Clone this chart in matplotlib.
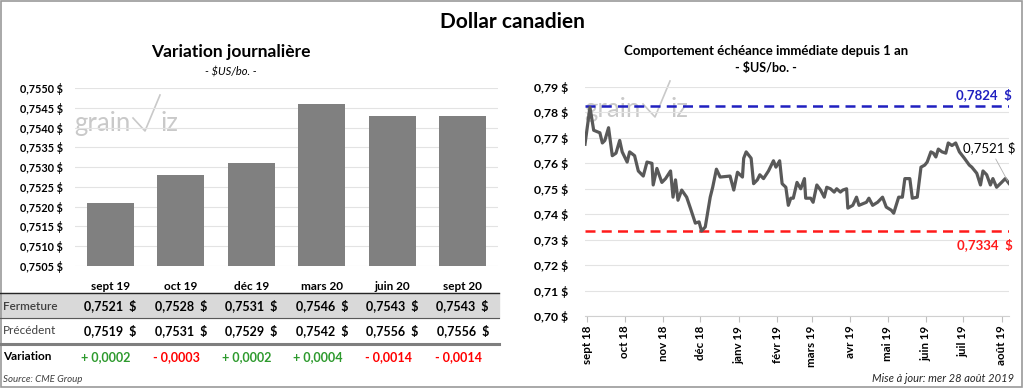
import pandas as pd
import matplotlib
matplotlib.use("Agg")
import matplotlib.pyplot as plt
from matplotlib.ticker import FuncFormatter, MultipleLocator
from matplotlib.transforms import blended_transform_factory
from matplotlib.lines import Line2D
from matplotlib.patches import Rectangle

# left panel: daily variation per contract month
contracts = ["sept 19", "oct 19", "déc 19", "mars 20", "juin 20", "sept 20"]
fermeture = [0.7521, 0.7528, 0.7531, 0.7546, 0.7543, 0.7543]
precedent = [0.7519, 0.7531, 0.7529, 0.7542, 0.7556, 0.7556]
variation = [0.0002, -0.0003, 0.0002, 0.0004, -0.0014, -0.0014]

# right panel: front month over one year
dates = [
    "2018-08-30", "2018-09-03", "2018-09-06", "2018-09-11", "2018-09-13", "2018-09-15",
    "2018-09-18", "2018-09-21", "2018-09-24", "2018-09-27", "2018-09-29", "2018-10-03",
    "2018-10-05", "2018-10-09", "2018-10-12", "2018-10-16", "2018-10-19", "2018-10-23",
    "2018-10-24", "2018-10-27", "2018-10-31", "2018-11-03", "2018-11-07", "2018-11-09",
    "2018-11-11", "2018-11-13", "2018-11-16", "2018-11-20", "2018-11-23", "2018-11-27",
    "2018-11-30", "2018-12-02", "2018-12-05", "2018-12-09", "2018-12-11", "2018-12-14",
    "2018-12-17", "2018-12-25", "2018-12-28", "2018-12-31", "2019-01-04", "2019-01-05",
    "2019-01-07", "2019-01-11", "2019-01-13", "2019-01-16", "2019-01-18", "2019-01-21",
    "2019-01-25", "2019-01-29", "2019-01-31", "2019-02-03", "2019-02-05", "2019-02-08",
    "2019-02-10", "2019-02-12", "2019-02-14", "2019-02-17", "2019-02-20", "2019-02-23",
    "2019-02-24", "2019-02-28", "2019-03-02", "2019-03-05", "2019-03-08", "2019-03-11",
    "2019-03-13", "2019-03-16", "2019-03-19", "2019-03-21", "2019-03-24", "2019-03-26",
    "2019-03-29", "2019-03-30", "2019-04-03", "2019-04-06", "2019-04-08", "2019-04-14",
    "2019-04-16", "2019-04-19", "2019-04-23", "2019-04-27", "2019-04-30", "2019-05-04",
    "2019-05-06", "2019-05-10", "2019-05-13", "2019-05-15", "2019-05-19", "2019-05-21",
    "2019-05-25", "2019-05-28", "2019-05-31", "2019-06-02", "2019-06-05", "2019-06-07",
    "2019-06-09", "2019-06-11", "2019-06-14", "2019-06-17", "2019-06-19", "2019-06-22",
    "2019-06-25", "2019-06-28", "2019-07-02", "2019-07-06", "2019-07-08", "2019-07-12",
    "2019-07-15", "2019-07-17", "2019-07-20", "2019-07-23", "2019-07-25", "2019-07-28",
    "2019-08-01", "2019-08-04", "2019-08-07",
]
prices = [
    0.7675, 0.7820, 0.7730, 0.7720, 0.7680, 0.7690,
    0.7740, 0.7630, 0.7640, 0.7690, 0.7645, 0.7605,
    0.7645, 0.7630, 0.7570, 0.7550, 0.7605, 0.7600,
    0.7515, 0.7580, 0.7525, 0.7540, 0.7570, 0.7467,
    0.7535, 0.7455, 0.7495, 0.7467, 0.7424, 0.7365,
    0.7370, 0.7334, 0.7350, 0.7467, 0.7506, 0.7577,
    0.7546, 0.7550, 0.7495, 0.7565, 0.7546, 0.7620,
    0.7645, 0.7620, 0.7520, 0.7535, 0.7555, 0.7540,
    0.7570, 0.7610, 0.7585, 0.7610, 0.7520, 0.7506,
    0.7435, 0.7463, 0.7463, 0.7525, 0.7500, 0.7540,
    0.7463, 0.7463, 0.7447, 0.7515, 0.7495, 0.7467,
    0.7506, 0.7500, 0.7487, 0.7500, 0.7487, 0.7495,
    0.7500, 0.7424, 0.7435, 0.7467, 0.7435, 0.7447,
    0.7463, 0.7435, 0.7447, 0.7467, 0.7428, 0.7416,
    0.7404, 0.7467, 0.7467, 0.7540, 0.7540, 0.7463,
    0.7467, 0.7585, 0.7593, 0.7605, 0.7645, 0.7640,
    0.7625, 0.7656, 0.7645, 0.7640, 0.7680, 0.7670,
    0.7680, 0.7645, 0.7620, 0.7593, 0.7585, 0.7561,
    0.7515, 0.7570, 0.7555, 0.7515, 0.7540, 0.7506,
    0.7525, 0.7540, 0.7521,
]
high_1y = 0.7824
low_1y = 0.7334
month_labels = ["sept 18", "oct 18", "nov 18", "déc 18", "janv 19", "févr 19",
                "mars 19", "avr 19", "mai 19", "juin 19", "juil 19", "août 19"]

FONT = ["Lato", "DejaVu Sans"]
plt.rcParams["font.family"] = FONT

W, H = 1024, 388


def fx(px):
    return px / W


def fy(py):
    return 1 - py / H


def fr(v, nd):
    return f"{v:.{nd}f}".replace(".", ",")


def watermark(fig, x, y):
    # "grain" + stylised check-mark + "iz", drawn faintly behind the axes
    c = "#c9c9c9"
    fig.text(fx(x), fy(y), "grain", fontsize=18.5, color=c, va="baseline", zorder=-5)
    fig.add_artist(Line2D([fx(x + 59), fx(x + 71), fx(x + 86)],
                          [fy(y - 13), fy(y), fy(y - 36)], color=c, lw=1.2, zorder=-5))
    fig.text(fx(x + 86), fy(y), "iz", fontsize=18.5, color=c, va="baseline", zorder=-5)


def main():
    fig = plt.figure(figsize=(W / 100, H / 100), dpi=100)
    fig.patch.set_facecolor("white")
    fig.add_artist(Rectangle((0.001, 0.002), 0.997, 0.995, transform=fig.transFigure,
                             fill=False, ec="#9a9a9a", lw=1.2))

    fig.text(0.5, fy(22), "Dollar canadien", ha="center", va="center",
             fontsize=15, fontweight="bold")

    # ---- left: bars ----
    ax1 = fig.add_axes([fx(75), fy(266), fx(498 - 75), (266 - 88) / H])
    ax1.patch.set_alpha(0)
    x = list(range(len(contracts)))
    ax1.bar(x, fermeture, width=0.66, color="#808080", zorder=2)
    ax1.set_ylim(0.7505, 0.7550)
    ax1.set_xlim(-0.5, 5.5)
    ax1.yaxis.set_major_locator(MultipleLocator(0.0005))
    ax1.yaxis.set_major_formatter(FuncFormatter(lambda v, p: fr(v, 4) + " $"))
    ax1.grid(axis="y", color="#e3e3e3", lw=0.8, zorder=0)
    ax1.set_xticks(x)
    ax1.set_xticklabels(contracts, fontsize=8.5, fontweight="bold")
    ax1.tick_params(axis="both", length=0)
    ax1.tick_params(axis="x", pad=11)
    ax1.tick_params(axis="y", pad=9)
    for lab in ax1.get_yticklabels():
        lab.set_fontsize(7.8)
        lab.set_fontweight("bold")
    for s in ax1.spines.values():
        s.set_visible(False)

    fig.text(fx(231), fy(52), "Variation journalière", ha="center", va="center",
             fontsize=12.5, fontweight="bold")
    fig.text(fx(231), fy(72), "- $US/bo. -", ha="center", va="center",
             fontsize=8, style="italic")
    watermark(fig, 74, 131)

    # ---- table under bars ----
    fig.add_artist(Rectangle((0, fy(318)), fx(499), (318 - 293) / H,
                             transform=fig.transFigure, color="#d9d9d9", zorder=-10))
    fig.add_artist(Line2D([0, fx(499)], [fy(293)] * 2, color="#262626", lw=1.0))
    fig.add_artist(Line2D([0, fx(499)], [fy(318)] * 2, color="#595959", lw=0.8))
    fig.add_artist(Line2D([0, fx(499)], [fy(344)] * 2, color="#7f7f7f", lw=2.2))

    tr = blended_transform_factory(ax1.transData, fig.transFigure)
    fig.text(fx(3), fy(306), "Fermeture", va="center", fontsize=8.5, color="#404040",
             fontweight="semibold")
    fig.text(fx(3), fy(331), "Précédent", va="center", fontsize=8.5, color="#404040")
    fig.text(fx(3), fy(357), "Variation", va="center", fontsize=8.5, fontweight="bold")
    for i in x:
        ax1.text(i, fy(306), fr(fermeture[i], 4) + "  $", transform=tr, ha="center",
                 va="center", fontsize=9, fontweight="bold")
        ax1.text(i, fy(331), fr(precedent[i], 4) + "  $", transform=tr, ha="center",
                 va="center", fontsize=9, fontweight="bold")
        v = variation[i]
        sign = "+ " if v >= 0 else "- "
        col = "#2e9a2e" if v >= 0 else "#ff0000"
        ax1.text(i - 0.06, fy(357), sign + fr(abs(v), 4), transform=tr, ha="center",
                 va="center", fontsize=9, color=col, fontweight="bold")

    fig.text(fx(3), fy(379), "Source: CME Group", va="center", fontsize=7,
             style="italic", color="#404040")

    # ---- right: one year line ----
    ax2 = fig.add_axes([fx(585), fy(316), fx(1009 - 585), (316 - 87) / H])
    ax2.patch.set_alpha(0)
    d = pd.to_datetime(dates)
    ax2.plot(d, prices, color="#595959", lw=2.3, zorder=3)
    ax2.axhline(high_1y, color="#2020c0", lw=1.8, ls=(0, (4, 2.5)), zorder=2)
    ax2.axhline(low_1y, color="#ff1a1a", lw=1.8, ls=(0, (4, 2.5)), zorder=2)
    ax2.set_xlim(d[0], d[-1])
    ax2.set_ylim(0.70, 0.79)
    ax2.yaxis.set_major_locator(MultipleLocator(0.01))
    ax2.yaxis.set_major_formatter(FuncFormatter(lambda v, p: fr(v, 2) + " $"))
    ax2.grid(axis="y", color="#e3e3e3", lw=0.8, zorder=0)
    month_ticks = pd.date_range("2018-09-01", periods=12, freq="MS")
    ax2.set_xticks(month_ticks)
    ax2.set_xticklabels(month_labels, rotation=90, fontsize=8.3, fontweight="bold")
    ax2.tick_params(axis="x", length=4, color="#bfbfbf", pad=3)
    ax2.tick_params(axis="y", length=0, pad=12)
    for lab in ax2.get_yticklabels():
        lab.set_fontsize(8.8)
        lab.set_fontweight("bold")
    for k, s in ax2.spines.items():
        s.set_visible(k == "bottom")
    ax2.spines["bottom"].set_color("#d0d0d0")

    ax2.annotate(fr(high_1y, 4) + "  $", (d[-1], high_1y), xytext=(2, 4),
                 textcoords="offset points", ha="right", va="bottom",
                 color="#2020c0", fontsize=9.5, fontweight="bold", annotation_clip=False)
    ax2.annotate(fr(low_1y, 4) + "  $", (d[-1], low_1y), xytext=(3, -5),
                 textcoords="offset points", ha="right", va="top",
                 color="#ff1a1a", fontsize=9.5, fontweight="bold", annotation_clip=False)
    ax2.annotate(fr(prices[-1], 4) + " $", (d[-1], prices[-1]), xytext=(-33, 26),
                 textcoords="offset points", ha="left", va="center",
                 fontsize=9.5, annotation_clip=False,
                 arrowprops=dict(arrowstyle="-", color="#b0b0b0", lw=0.6,
                                 shrinkA=2, shrinkB=2))

    fig.text(fx(766), fy(51), "Comportement échéance immédiate depuis 1 an",
             ha="center", va="center", fontsize=9.5, fontweight="bold")
    fig.text(fx(766), fy(68), "- $US/bo. -", ha="center", va="center",
             fontsize=9, fontweight="bold")
    watermark(fig, 584, 117)

    fig.text(fx(1014), fy(378), "Mise à jour: mer 28 août 2019", ha="right",
             va="center", fontsize=8, style="italic", color="#262626")

    fig.savefig("out.png", dpi=100)


if __name__ == "__main__":
    main()
